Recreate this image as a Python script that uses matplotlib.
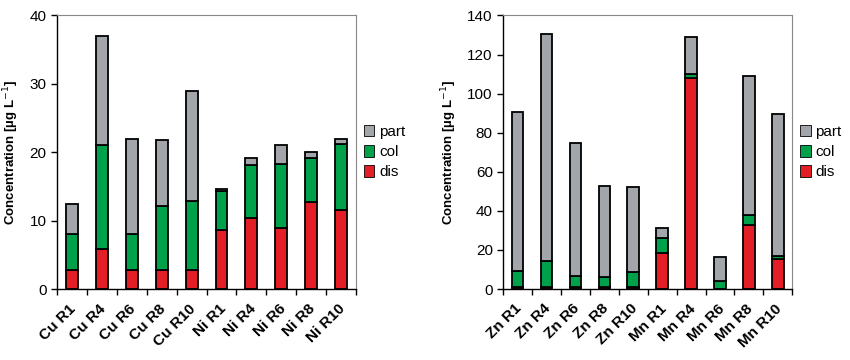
import numpy as np
import matplotlib.pyplot as plt

plt.rcParams['font.family'] = ['Liberation Sans', 'DejaVu Sans']

# left panel: Cu and Ni
cats_left = ["Cu R1", "Cu R4", "Cu R6", "Cu R8", "Cu R10",
             "Ni R1", "Ni R4", "Ni R6", "Ni R8", "Ni R10"]
dis_left = [2.8, 5.8, 2.8, 2.8, 2.8, 8.7, 10.4, 8.9, 12.7, 11.5]
col_left = [5.2, 15.2, 5.2, 9.4, 10.1, 5.7, 7.7, 9.4, 6.4, 9.7]
part_left = [4.5, 16.0, 14.0, 9.6, 16.1, 0.3, 1.0, 2.7, 0.9, 0.8]

# right panel: Zn and Mn
cats_right = ["Zn R1", "Zn R4", "Zn R6", "Zn R8", "Zn R10",
              "Mn R1", "Mn R4", "Mn R6", "Mn R8", "Mn R10"]
dis_right = [1.3, 1.2, 1.2, 1.2, 1.2, 18.5, 107.8, 0.0, 33.0, 15.2]
col_right = [7.8, 13.4, 5.3, 4.8, 7.7, 7.5, 2.4, 3.9, 4.9, 1.9]
part_right = [81.7, 116.0, 68.5, 46.6, 43.2, 5.2, 18.8, 12.5, 71.1, 72.7]

c_part = "#a2a6aa"
c_col = "#00a14b"
c_dis = "#e41e26"

fig = plt.figure(figsize=(8.5, 3.6), dpi=100)
ax1 = fig.add_axes([0.067, 0.197, 0.352, 0.760])
ax2 = fig.add_axes([0.592, 0.197, 0.340, 0.760])


def draw(ax, cats, dis, col, part, ymax, step):
    x = np.arange(len(cats))
    dis = np.array(dis)
    col = np.array(col)
    part = np.array(part)
    kw = dict(width=0.4, edgecolor="black", linewidth=1.3)
    b_dis = ax.bar(x, dis, color=c_dis, **kw)
    b_col = ax.bar(x, col, bottom=dis, color=c_col, **kw)
    b_part = ax.bar(x, part, bottom=dis + col, color=c_part, **kw)
    ax.set_xlim(-0.5, len(cats) - 0.5)
    ax.set_ylim(0, ymax)
    ax.set_yticks(np.arange(0, ymax + 1, step))
    ax.set_xticks(x - 0.1)
    ax.set_xticklabels(cats, rotation=45, ha="right", rotation_mode="anchor",
                       fontweight="bold", fontsize=11)
    ax.set_xticks(np.arange(-0.5, len(cats), 1), minor=True)
    ax.tick_params(axis="x", which="major", length=0, pad=9)
    ax.tick_params(axis="x", which="minor", length=4, width=1, direction="out")
    ax.tick_params(axis="y", length=4, width=1, direction="out", labelsize=11)
    ax.spines["left"].set_color("black")
    ax.spines["bottom"].set_color("black")
    ax.spines["left"].set_linewidth(1)
    ax.spines["bottom"].set_linewidth(1)
    for s in ["top", "right"]:
        ax.spines[s].set_color("#888888")
        ax.spines[s].set_linewidth(0.8)
    ax.set_ylabel("Concentration [µg L$^{-1}$]", fontweight="bold",
                  fontsize=9.5, labelpad=6)
    leg = ax.legend([b_part, b_col, b_dis], ["part", "col", "dis"],
                    loc="center left", bbox_to_anchor=(1.0, 0.5),
                    borderaxespad=0.3, borderpad=0.2,
                    frameon=False, fontsize=11, handlelength=0.7,
                    handleheight=0.75, handletextpad=0.3, labelspacing=0.4)
    for h in leg.legend_handles:
        h.set_linewidth(0.6)


draw(ax1, cats_left, dis_left, col_left, part_left, 40, 10)
draw(ax2, cats_right, dis_right, col_right, part_right, 140, 20)

fig.savefig("out.png", dpi=100)
